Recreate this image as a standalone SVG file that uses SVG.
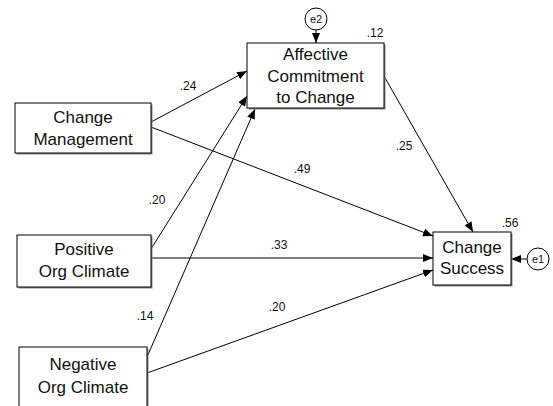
<svg xmlns="http://www.w3.org/2000/svg" width="553" height="406" viewBox="0 0 553 406">
<style>
.box{fill:#fff;stroke:#000;stroke-width:1}
.sh{fill:#888;stroke:none}
.lbl{font-family:"Liberation Sans",Arial,sans-serif;font-size:17px;fill:#111;text-anchor:middle}
.num{font-family:"Liberation Sans",Arial,sans-serif;font-size:12px;fill:#111;text-anchor:middle}
.err{font-family:"Liberation Sans",Arial,sans-serif;font-size:11px;fill:#111;text-anchor:middle}
.ln{stroke:#000;stroke-width:1;fill:none;marker-end:url(#ah)}
</style>
<defs>
<marker id="ah" viewBox="0 0 10 8" refX="10" refY="4" markerWidth="10" markerHeight="8" markerUnits="userSpaceOnUse" orient="auto">
<path d="M0,0 L10,4 L0,8 Z" fill="#000"/>
</marker>
</defs>
<rect width="553" height="406" fill="#fff"/>
<g id="connectors">
<line class="ln" x1="151" y1="122" x2="247" y2="71"/>
<line class="ln" x1="151" y1="127" x2="433" y2="236"/>
<line class="ln" x1="151" y1="249" x2="247" y2="96"/>
<line class="ln" x1="147" y1="357" x2="255" y2="109"/>
<line class="ln" x1="151" y1="258" x2="433" y2="258"/>
<line class="ln" x1="147" y1="373" x2="433" y2="270"/>
<line class="ln" x1="384" y1="76" x2="473" y2="232"/>
<line class="ln" x1="316" y1="30" x2="316" y2="43"/>
<line class="ln" x1="527" y1="259" x2="511" y2="259"/>
<text class="num" x="188" y="90">.24</text>
<text class="num" x="302" y="173">.49</text>
<text class="num" x="404" y="150">.25</text>
<text class="num" x="157" y="204">.20</text>
<text class="num" x="279" y="249">.33</text>
<text class="num" x="277" y="311">.20</text>
<text class="num" x="145" y="320">.14</text>
</g>
<g id="acc">
<rect class="sh" x="248.5" y="44.5" width="137" height="65"/>
<rect class="box" x="247" y="43" width="137" height="65"/>
<text class="lbl" x="315.5" y="60">Affective</text>
<text class="lbl" x="315.5" y="81.5">Commitment</text>
<text class="lbl" x="315.5" y="103">to Change</text>
<text class="num" x="375" y="37">.12</text>
</g>
<g id="e2">
<circle cx="316" cy="19" r="11" fill="#fff" stroke="#000"/>
<text class="err" x="316" y="23">e2</text>
</g>
<g id="cm">
<rect class="sh" x="16.5" y="104.5" width="136" height="50"/>
<rect class="box" x="15" y="103" width="136" height="50"/>
<text class="lbl" x="83" y="123">Change</text>
<text class="lbl" x="83" y="145">Management</text>
</g>
<g id="po">
<rect class="sh" x="18.5" y="236.5" width="134" height="52"/>
<rect class="box" x="17" y="235" width="134" height="52"/>
<text class="lbl" x="84" y="255">Positive</text>
<text class="lbl" x="84" y="277">Org Climate</text>
</g>
<g id="no">
<rect class="sh" x="20.5" y="348.5" width="128" height="62"/>
<rect class="box" x="19" y="347" width="128" height="62"/>
<text class="lbl" x="83" y="370">Negative</text>
<text class="lbl" x="83" y="393">Org Climate</text>
</g>
<g id="cs">
<rect class="sh" x="434.5" y="233.5" width="78" height="53"/>
<rect class="box" x="433" y="232" width="78" height="53"/>
<text class="lbl" x="472" y="253">Change</text>
<text class="lbl" x="472" y="274">Success</text>
<text class="num" x="510" y="227">.56</text>
</g>
<g id="e1">
<circle cx="538" cy="259" r="11" fill="#fff" stroke="#000"/>
<text class="err" x="538" y="263">e1</text>
</g>
</svg>
